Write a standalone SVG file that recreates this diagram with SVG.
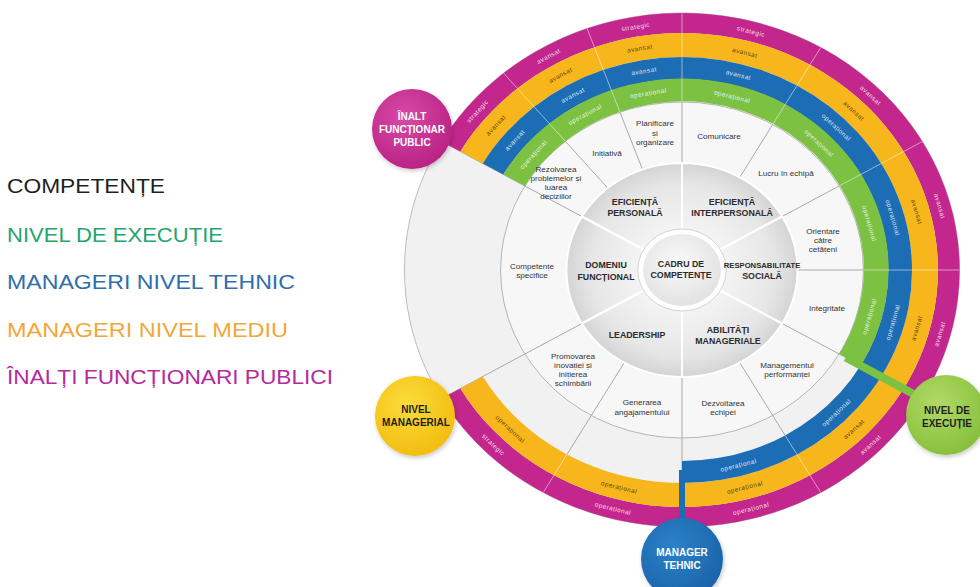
<svg xmlns="http://www.w3.org/2000/svg" width="980" height="587" viewBox="0 0 980 587">
<defs>
<style>
.lg{font-family:"Liberation Sans",Arial,sans-serif;font-size:21px}
.sub{font-family:"Liberation Sans",Arial,sans-serif;font-size:8.1px;fill:#333;text-anchor:middle}
.main{font-family:"Liberation Sans",Arial,sans-serif;font-size:8.8px;font-weight:bold;fill:#2b2b2b;text-anchor:middle}
.rl{font-family:"Liberation Sans",Arial,sans-serif;font-size:6.4px;letter-spacing:0.5px;text-anchor:middle;fill:#fff;fill-opacity:0.85}
.dk{fill:#4a3200;fill-opacity:0.9}
.bd{font-family:"Liberation Sans",Arial,sans-serif;font-size:10px;font-weight:bold;text-anchor:middle}
.div{stroke:#a9a9a9;stroke-width:1;vector-effect:non-scaling-stroke;fill:none}
.rdiv{stroke:#fff;stroke-opacity:0.5;stroke-width:1;vector-effect:non-scaling-stroke}
.ms{fill:url(#gMain);stroke:#fff;stroke-width:2;vector-effect:non-scaling-stroke}
</style>
<radialGradient id="gMain" gradientUnits="userSpaceOnUse" cx="0" cy="0" r="107">
<stop offset="0.4" stop-color="#f3f3f3"/>
<stop offset="0.8" stop-color="#e6e6e6"/>
<stop offset="1" stop-color="#d4d4d4"/>
</radialGradient>
<radialGradient id="gCenter" cx="0.45" cy="0.4" r="0.6">
<stop offset="0" stop-color="#fafafa"/>
<stop offset="1" stop-color="#e2e2e2"/>
</radialGradient>
<radialGradient id="gMag" cx="0.4" cy="0.35" r="0.7">
<stop offset="0" stop-color="#d84aa6"/>
<stop offset="1" stop-color="#b82183"/>
</radialGradient>
<radialGradient id="gYel" cx="0.4" cy="0.35" r="0.7">
<stop offset="0" stop-color="#fbdc3a"/>
<stop offset="1" stop-color="#f2bb10"/>
</radialGradient>
<radialGradient id="gBlu" cx="0.4" cy="0.35" r="0.7">
<stop offset="0" stop-color="#2c82c9"/>
<stop offset="1" stop-color="#1a62a8"/>
</radialGradient>
<radialGradient id="gGrn" cx="0.4" cy="0.35" r="0.7">
<stop offset="0" stop-color="#b2da66"/>
<stop offset="1" stop-color="#84bf3a"/>
</radialGradient>
<filter id="sh" x="-30%" y="-30%" width="160%" height="160%">
<feDropShadow dx="1" dy="2" stdDeviation="2" flood-color="#000" flood-opacity="0.22"/>
</filter>
</defs>

<rect width="980" height="587" fill="#fff"/>

<!-- legend -->
<g id="legend">
<text class="lg" x="7" y="193" fill="#1f1f1f" textLength="158" lengthAdjust="spacingAndGlyphs">COMPETENȚE</text>
<text class="lg" x="7" y="242" fill="#25a56c" textLength="216" lengthAdjust="spacingAndGlyphs">NIVEL DE EXECUȚIE</text>
<text class="lg" x="7" y="289" fill="#2f6eab" textLength="288" lengthAdjust="spacingAndGlyphs">MANAGERI NIVEL TEHNIC</text>
<text class="lg" x="7" y="337" fill="#f0a83a" textLength="281" lengthAdjust="spacingAndGlyphs">MANAGERI NIVEL MEDIU</text>
<text class="lg" x="7" y="384" fill="#b52a9c" textLength="326" lengthAdjust="spacingAndGlyphs">ÎNALȚI FUNCȚIONARI PUBLICI</text>
</g>

<!-- wheel shapes, drawn around the hub in a slightly widened frame -->
<g id="wheel" transform="translate(682,270) scale(1.08,1)">
<circle r="257" fill="#f1f1f1" stroke="#bdbdbd" stroke-width="1" vector-effect="non-scaling-stroke"/>
<circle r="168" fill="#f7f7f7" stroke="#b5b5b5" stroke-width="1" vector-effect="non-scaling-stroke"/>

<g id="connectors">
<!-- main dividers -->
<line class="div" x1="34.64" y1="20" x2="222.57" y2="128.5"/>
<line class="div" x1="0" y1="40" x2="0" y2="257"/>
<line class="div" x1="-34.64" y1="20" x2="-222.57" y2="128.5"/>
<line class="div" x1="-34.64" y1="-20" x2="-222.57" y2="-128.5"/>
<line class="div" x1="0" y1="-40" x2="0" y2="-257"/>
<line class="div" x1="34.64" y1="-20" x2="222.57" y2="-128.5"/>
<!-- sub dividers -->
<line class="div" x1="107" y1="0" x2="257" y2="0"/>
<line class="div" x1="53.5" y1="92.66" x2="128.5" y2="222.57"/>
<line class="div" x1="-53.5" y1="92.66" x2="-128.5" y2="222.57"/>
<line class="div" x1="-68.78" y1="-81.96" x2="-165.2" y2="-196.86"/>
<line class="div" x1="-36.59" y1="-100.55" x2="-87.89" y2="-241.5"/>
<line class="div" x1="53.5" y1="-92.66" x2="128.5" y2="-222.57"/>
</g>

<!-- main competence sectors -->
<path id="sec-domeniu" class="ms" d="M-92.66,53.5 A107,107 0 0 1 -92.66,-53.5 L-34.64,-20 A40,40 0 0 0 -34.64,20Z"/>
<path id="sec-ef-pers" class="ms" d="M-92.66,-53.5 A107,107 0 0 1 0,-107 L0,-40 A40,40 0 0 0 -34.64,-20Z"/>
<path id="sec-ef-inter" class="ms" d="M0,-107 A107,107 0 0 1 92.66,-53.5 L34.64,-20 A40,40 0 0 0 0,-40Z"/>
<path id="sec-resp" class="ms" d="M92.66,-53.5 A107,107 0 0 1 92.66,53.5 L34.64,20 A40,40 0 0 0 34.64,-20Z"/>
<path id="sec-abil" class="ms" d="M92.66,53.5 A107,107 0 0 1 0,107 L0,40 A40,40 0 0 0 34.64,20Z"/>
<path id="sec-lead" class="ms" d="M0,107 A107,107 0 0 1 -92.66,53.5 L-34.64,20 A40,40 0 0 0 0,40Z"/>

<!-- level rings -->
<path id="ring-magenta" fill="#c3268d" d="M-222.57,-128.5 A257,257 0 1 1 -222.57,128.5 L-205.25,118.5 A237,237 0 1 0 -205.25,-118.5Z"/>
<path id="ring-yellow" fill="#f6b61c" d="M-205.25,-118.5 A237,237 0 1 1 -205.25,118.5 L-184.46,106.5 A213,213 0 1 0 -184.46,-106.5Z"/>
<path id="ring-blue" fill="#1d6db5" d="M-184.46,-106.5 A213,213 0 1 1 0,213 L0,191 A191,191 0 1 0 -165.41,-95.5Z"/>
<path id="ring-green" fill="#7cc142" d="M-165.41,-95.5 A191,191 0 1 1 165.41,95.5 L145.49,84 A168,168 0 1 0 -145.49,-84Z"/>

<!-- ring segment dividers -->
<line class="rdiv" x1="-107.99" y1="-128.69" x2="-165.2" y2="-196.86"/>
<line class="rdiv" x1="-57.46" y1="-157.87" x2="-87.89" y2="-241.5"/>
<line class="rdiv" x1="0" y1="-168" x2="0" y2="-257"/>
<line class="rdiv" x1="84" y1="-145.49" x2="128.5" y2="-222.57"/>
<line class="rdiv" x1="145.49" y1="-84" x2="222.57" y2="-128.5"/>
<line class="rdiv" x1="168" y1="0" x2="257" y2="0"/>
<line class="rdiv" x1="95.5" y1="165.41" x2="128.5" y2="222.57"/>
<line class="rdiv" x1="-106.5" y1="184.46" x2="-128.5" y2="222.57"/>

<!-- hub -->
<circle r="41" fill="#fff" stroke="#d4d4d4" stroke-width="1" vector-effect="non-scaling-stroke"/>
<circle id="hub" r="36" fill="url(#gCenter)"/>
</g>

<!-- stubs joining rings to level badges -->
<g id="badge-links" stroke-linecap="butt">
<line x1="845.7" y1="357.5" x2="934" y2="405" stroke="#7cc142" stroke-width="8"/>
<line x1="682" y1="470" x2="682" y2="522" stroke="#1d6db5" stroke-width="6"/>
</g>

<!-- ring labels -->
<g id="ring-labels">
<text class="rl" dy="2.2" transform="translate(477.6,111.2) rotate(-47.8)">strategic</text>
<text class="rl" dy="2.2" transform="translate(548.6,56.1) rotate(-28.1)">avansat</text>
<text class="rl" dy="2.2" transform="translate(635.7,26.8) rotate(-9.3)">strategic</text>
<text class="rl" dy="2.2" transform="translate(751,31.4) rotate(13.9)">strategic</text>
<text class="rl" dy="2.2" transform="translate(870.6,95.3) rotate(42.8)">avansat</text>
<text class="rl" dy="2.2" transform="translate(939.7,206.1) rotate(73.9)">avansat</text>
<text class="rl" dy="2.2" transform="translate(939.7,333.9) rotate(-73.9)">avansat</text>
<text class="rl" dy="2.2" transform="translate(870.6,444.7) rotate(-42.8)">avansat</text>
<text class="rl" dy="2.2" transform="translate(751,508.6) rotate(-13.9)">operațional</text>
<text class="rl" dy="2.2" transform="translate(613,508.6) rotate(13.9)">operațional</text>
<text class="rl" dy="2.2" transform="translate(493.4,444.7) rotate(42.8)">strategic</text>

<text class="rl dk" dy="2.2" transform="translate(495.9,125.3) rotate(-47.8)">avansat</text>
<text class="rl dk" dy="2.2" transform="translate(560.5,75.1) rotate(-28.1)">avansat</text>
<text class="rl dk" dy="2.2" transform="translate(639.8,48.4) rotate(-9.3)">avansat</text>
<text class="rl dk" dy="2.2" transform="translate(744.9,52.7) rotate(13.9)">avansat</text>
<text class="rl dk" dy="2.2" transform="translate(853.8,110.9) rotate(42.8)">avansat</text>
<text class="rl dk" dy="2.2" transform="translate(916.7,211.8) rotate(73.9)">avansat</text>
<text class="rl dk" dy="2.2" transform="translate(916.7,328.2) rotate(-73.9)">avansat</text>
<text class="rl dk" dy="2.2" transform="translate(853.8,429.1) rotate(-42.8)">avansat</text>
<text class="rl dk" dy="2.2" transform="translate(744.9,487.3) rotate(-13.9)">operațional</text>
<text class="rl dk" dy="2.2" transform="translate(619.1,487.3) rotate(13.9)">operațional</text>
<text class="rl dk" dy="2.2" transform="translate(510.2,429.1) rotate(42.8)">operațional</text>

<text class="rl" dy="2.2" transform="translate(514.9,140.1) rotate(-47.8)">avansat</text>
<text class="rl" dy="2.2" transform="translate(572.9,95.1) rotate(-28.1)">avansat</text>
<text class="rl" dy="2.2" transform="translate(644.1,71.1) rotate(-9.3)">avansat</text>
<text class="rl" dy="2.2" transform="translate(738.5,74.9) rotate(13.9)">avansat</text>
<text class="rl" dy="2.2" transform="translate(836.3,127.2) rotate(42.8)">operațional</text>
<text class="rl" dy="2.2" transform="translate(892.8,217.7) rotate(73.9)">operațional</text>
<text class="rl" dy="2.2" transform="translate(892.8,322.3) rotate(-73.9)">operațional</text>
<text class="rl" dy="2.2" transform="translate(836.3,412.8) rotate(-42.8)">operațional</text>
<text class="rl" dy="2.2" transform="translate(738.5,465.1) rotate(-13.9)">operațional</text>

<text class="rl" dy="2.2" transform="translate(533.5,154.6) rotate(-47.8)">operațional</text>
<text class="rl" dy="2.2" transform="translate(585,114.5) rotate(-28.1)">operațional</text>
<text class="rl" dy="2.2" transform="translate(648.3,93.2) rotate(-9.3)">operațional</text>
<text class="rl" dy="2.2" transform="translate(732.2,96.6) rotate(13.9)">operațional</text>
<text class="rl" dy="2.2" transform="translate(819.1,143.1) rotate(42.8)">operațional</text>
<text class="rl" dy="2.2" transform="translate(869.3,223.5) rotate(73.9)">operațional</text>
<text class="rl" dy="2.2" transform="translate(869.3,316.5) rotate(-73.9)">operațional</text>
</g>

<!-- sub-competences -->
<g id="sub-rezolvarea"><text class="sub" x="556" y="172">Rezolvarea</text><text class="sub" x="556" y="181">problemelor și</text><text class="sub" x="556" y="190">luarea</text><text class="sub" x="556" y="199">deciziilor</text></g>
<g id="sub-initiativa"><text class="sub" x="607" y="156">Inițiativă</text></g>
<g id="sub-planificare"><text class="sub" x="655" y="126">Planificare</text><text class="sub" x="655" y="135.5">și</text><text class="sub" x="655" y="145">organizare</text></g>
<g id="sub-comunicare"><text class="sub" x="719" y="139">Comunicare</text></g>
<g id="sub-lucru"><text class="sub" x="786" y="176">Lucru în echipă</text></g>
<g id="sub-orientare"><text class="sub" x="823" y="234">Orientare</text><text class="sub" x="823" y="243">către</text><text class="sub" x="823" y="252">cetățeni</text></g>
<g id="sub-integritate"><text class="sub" x="827" y="311">Integritate</text></g>
<g id="sub-management"><text class="sub" x="787" y="368">Managementul</text><text class="sub" x="787" y="377">performanței</text></g>
<g id="sub-dezvoltarea"><text class="sub" x="723" y="406">Dezvoltarea</text><text class="sub" x="723" y="415">echipei</text></g>
<g id="sub-generarea"><text class="sub" x="642" y="405">Generarea</text><text class="sub" x="642" y="414.5">angajamentului</text></g>
<g id="sub-promovarea"><text class="sub" x="573" y="359">Promovarea</text><text class="sub" x="573" y="368">inovației și</text><text class="sub" x="573" y="377">inițierea</text><text class="sub" x="573" y="386">schimbării</text></g>
<g id="sub-specifice"><text class="sub" x="532" y="269">Competențe</text><text class="sub" x="532" y="278">specifice</text></g>

<!-- main competences -->
<g id="main-ef-pers"><text class="main" x="635" y="205">EFICIENȚĂ</text><text class="main" x="635" y="215.5">PERSONALĂ</text></g>
<g id="main-ef-inter"><text class="main" x="732" y="205">EFICIENȚĂ</text><text class="main" x="732" y="215.5">INTERPERSONALĂ</text></g>
<g id="main-domeniu"><text class="main" x="606" y="268">DOMENIU</text><text class="main" x="606" y="279.5">FUNCȚIONAL</text></g>
<g id="main-cadru"><text class="main" x="681" y="266.5">CADRU DE</text><text class="main" x="681" y="278">COMPETENȚE</text></g>
<g id="main-resp"><text class="main" x="762" y="268" style="font-size:7.7px">RESPONSABILITATE</text><text class="main" x="762" y="278.5">SOCIALĂ</text></g>
<g id="main-abil"><text class="main" x="728" y="333">ABILITĂȚI</text><text class="main" x="728" y="344">MANAGERIALE</text></g>
<g id="main-lead"><text class="main" x="637" y="338">LEADERSHIP</text></g>

<!-- level badges -->
<g id="badge-inalt"><circle cx="412" cy="129" r="40" fill="url(#gMag)" filter="url(#sh)"/><text class="bd" fill="#fff" x="412" y="120">ÎNALT</text><text class="bd" fill="#fff" x="412" y="133">FUNCȚIONAR</text><text class="bd" fill="#fff" x="412" y="146">PUBLIC</text></g>
<g id="badge-managerial"><circle cx="415" cy="416" r="40" fill="url(#gYel)" filter="url(#sh)"/><text class="bd" fill="#1e1e1e" x="416" y="412.5">NIVEL</text><text class="bd" fill="#1e1e1e" x="416" y="425.5">MANAGERIAL</text></g>
<g id="badge-tehnic"><circle cx="682" cy="559" r="41" fill="url(#gBlu)" filter="url(#sh)"/><text class="bd" fill="#fff" x="682" y="556">MANAGER</text><text class="bd" fill="#fff" x="682" y="569">TEHNIC</text></g>
<g id="badge-executie"><circle cx="946" cy="415" r="40" fill="url(#gGrn)" filter="url(#sh)"/><text class="bd" fill="#1e1e1e" x="947" y="413.5">NIVEL DE</text><text class="bd" fill="#1e1e1e" x="947" y="427">EXECUȚIE</text></g>
</svg>
